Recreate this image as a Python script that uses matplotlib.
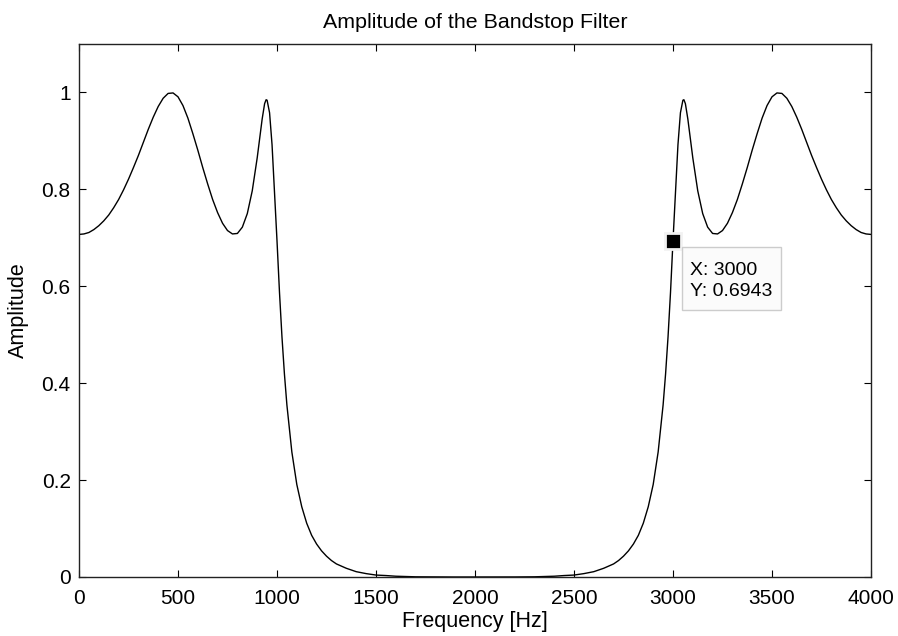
import matplotlib
matplotlib.use("Agg")
import matplotlib.pyplot as plt
from matplotlib.patches import Rectangle
from matplotlib.transforms import IdentityTransform

plt.rcParams['font.family'] = ['Liberation Sans', 'DejaVu Sans']

# Frequency samples (Hz)
freq = [0, 25, 50, 75, 100, 125, 150, 175, 200, 225, 250, 275, 300, 325, 350,
        375, 400, 425, 450, 475, 500, 525, 550, 575, 600, 625, 650, 675, 700,
        725, 750, 775, 800, 825, 850, 875, 900, 912.5, 925, 937.5, 945, 950,
        962.5, 975, 987.5, 1000, 1012.5, 1025, 1037.5, 1050, 1075, 1100, 1125,
        1150, 1175, 1200, 1225, 1250, 1275, 1300, 1350, 1400, 1450, 1500, 1550,
        1600, 1700, 1800, 1900, 2000,
        2100, 2200, 2300, 2400, 2450, 2500, 2550, 2600, 2650, 2700, 2725, 2750,
        2775, 2800, 2825, 2850, 2875, 2900, 2925, 2950, 2962.5, 2975, 2987.5,
        3000, 3012.5, 3025, 3037.5, 3050, 3055, 3062.5, 3075, 3087.5, 3100,
        3125, 3150, 3175, 3200, 3225, 3250, 3275, 3300, 3325, 3350, 3375, 3400,
        3425, 3450, 3475, 3500, 3525, 3550, 3575, 3600, 3625, 3650, 3675, 3700,
        3725, 3750, 3775, 3800, 3825, 3850, 3875, 3900, 3925, 3950, 3975, 4000]

# Amplitude values
amplitude = [0.707, 0.708, 0.711, 0.717, 0.725, 0.735, 0.747, 0.762, 0.779,
             0.799, 0.821, 0.845, 0.870, 0.897, 0.924, 0.949, 0.971, 0.988,
             0.998, 0.999, 0.991, 0.973, 0.947, 0.915, 0.881, 0.845, 0.811,
             0.779, 0.752, 0.730, 0.715, 0.708, 0.709, 0.722, 0.750, 0.797,
             0.865, 0.905, 0.945, 0.977, 0.985, 0.984, 0.958, 0.892, 0.795,
             0.694, 0.588, 0.496, 0.419, 0.355, 0.258, 0.191, 0.145, 0.111,
             0.086, 0.068, 0.054, 0.043, 0.034, 0.027, 0.018, 0.011, 0.007,
             0.004, 0.003, 0.0016, 0.0004, 0.0001, 0.0, 0.0,
             0.0, 0.0001, 0.0004, 0.0016, 0.003, 0.004, 0.007, 0.011, 0.018,
             0.027, 0.034, 0.043, 0.054, 0.068, 0.086, 0.111, 0.145, 0.191,
             0.258, 0.355, 0.419, 0.496, 0.588, 0.6943, 0.795, 0.892, 0.958,
             0.984, 0.985, 0.977, 0.945, 0.905, 0.865, 0.797, 0.750, 0.722,
             0.709, 0.708, 0.715, 0.730, 0.752, 0.779, 0.811, 0.845, 0.881,
             0.915, 0.947, 0.973, 0.991, 0.999, 0.998, 0.988, 0.971, 0.949,
             0.924, 0.897, 0.870, 0.845, 0.821, 0.799, 0.779, 0.762, 0.747,
             0.735, 0.725, 0.717, 0.711, 0.708, 0.707]

xticks = [0, 500, 1000, 1500, 2000, 2500, 3000, 3500, 4000]
yticks = [0, 0.2, 0.4, 0.6, 0.8, 1]
ytick_labels = ['0', '0.2', '0.4', '0.6', '0.8', '1']

tip_x = 3000
tip_y = 0.6943

fig = plt.figure(figsize=(8.98, 6.36), dpi=100)
ax = fig.add_axes([79 / 898, 1 - 577 / 636, (871 - 79) / 898, (577 - 44) / 636])

ax.plot(freq, amplitude, color='black', lw=1.0)

ax.set_xlim(0, 4000)
ax.set_ylim(0, 1.1)
ax.set_xticks(xticks)
ax.set_xticklabels([str(t) for t in xticks])
ax.set_yticks(yticks)
ax.set_yticklabels(ytick_labels)
ax.tick_params(direction='in', length=5, width=0.8, top=True, right=True,
               labelsize=15, colors='black')
ax.tick_params(axis='x', pad=9)
ax.tick_params(axis='y', pad=6)
for s in ax.spines.values():
    s.set_linewidth(1.0)
    s.set_color('#222222')

ax.set_title('Amplitude of the Bandstop Filter', fontsize=15.4, pad=11.5)
ax.set_xlabel('Frequency [Hz]', fontsize=15.5, labelpad=2)
ax.set_ylabel('Amplitude', fontsize=15.5, labelpad=9)

# Data tip: marker, box and two text lines placed in pixel offsets from the point
ax.plot([tip_x], [tip_y], marker='s', markersize=11.5, color='black',
        markeredgecolor='#f2f2f2', markeredgewidth=2.0, zorder=5)

px, py = ax.transData.transform((tip_x, tip_y))
box = Rectangle((px + 8.5, py - 69.7), 99, 63.3, transform=IdentityTransform(),
                facecolor='#fbfbfb', edgecolor='#cccccc', lw=1.0, zorder=6,
                clip_on=False)
ax.add_patch(box)
ax.annotate('X: %d' % tip_x, xy=(tip_x, tip_y), xytext=(17.5, -34.7),
            textcoords='offset pixels', ha='left', va='baseline',
            fontsize=14, zorder=7)
ax.annotate('Y: %.4f' % tip_y, xy=(tip_x, tip_y), xytext=(17.5, -55.7),
            textcoords='offset pixels', ha='left', va='baseline',
            fontsize=14, zorder=7)

fig.savefig('out.png', dpi=100)
